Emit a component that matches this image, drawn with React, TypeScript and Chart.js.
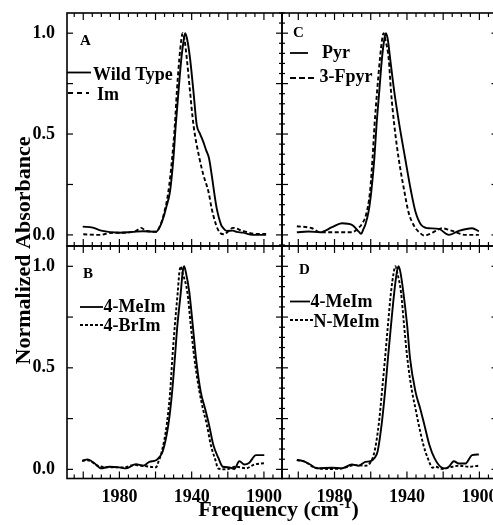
import React, { useEffect, useRef } from 'react';
import { Chart, registerables } from 'chart.js';

Chart.register(...registerables);

// ---------- Data ----------
// Panel A
const freqA_WT = [2000.3, 1994.7, 1990.1, 1980, 1972.6, 1967, 1959.7, 1957.1, 1955.5, 1954, 1952, 1950.1, 1948.8, 1947.3, 1945.7, 1944.5, 1943.6, 1942.5, 1940.9, 1939, 1937.2, 1935.3, 1933.5, 1932, 1930.4, 1928.9, 1927.6, 1926.1, 1923.7, 1922.6, 1920.6, 1917.2, 1915, 1911.7, 1906.2, 1898.8];
const absA_WT = [0.041, 0.036, 0.021, 0.011, 0.015, 0.018, 0.016, 0.05, 0.09, 0.14, 0.214, 0.38, 0.545, 0.71, 0.875, 0.96, 1.0, 0.97, 0.875, 0.71, 0.545, 0.5, 0.46, 0.42, 0.38, 0.297, 0.214, 0.13, 0.05, 0.035, 0.02, 0.021, 0.015, 0.011, 0.0, 0.0];
const freqA_Im = [2000, 1991, 1983.7, 1977.2, 1970.8, 1968, 1965.2, 1959.7, 1957.5, 1955.5, 1952.9, 1950.8, 1949.3, 1948.2, 1946.8, 1945.7, 1945, 1944, 1942.7, 1940.9, 1939, 1935.7, 1933.5, 1930.7, 1928.9, 1926.5, 1924.3, 1922, 1919.5, 1917.2, 1911.7, 1904.4, 1898.8];
const absA_Im = [0.003, 0.0, 0.011, 0.011, 0.02, 0.035, 0.02, 0.016, 0.045, 0.1, 0.214, 0.38, 0.545, 0.71, 0.875, 0.97, 1.0, 0.97, 0.875, 0.71, 0.545, 0.38, 0.297, 0.214, 0.13, 0.05, 0.01, 0.003, 0.02, 0.035, 0.02, 0.005, 0.005];

// Panel B
const freqB_MeIm = [2000.6, 1997.5, 1993.8, 1990.1, 1985.5, 1980, 1976.3, 1970.8, 1967, 1963.4, 1959.7, 1957.9, 1956, 1952.9, 1950.8, 1949.3, 1947.9, 1946, 1945, 1944.2, 1943.2, 1941.3, 1939.4, 1937.6, 1935, 1932.6, 1930.4, 1928, 1925.2, 1922.8, 1919.1, 1916.4, 1913.6, 1910.8, 1908.1, 1904.4, 1899.8];
const absB_MeIm = [0.042, 0.049, 0.03, 0.005, 0.013, 0.01, 0.005, 0.026, 0.018, 0.037, 0.045, 0.06, 0.089, 0.22, 0.383, 0.547, 0.71, 0.873, 0.97, 1.0, 0.97, 0.873, 0.71, 0.547, 0.383, 0.3, 0.22, 0.12, 0.056, 0.013, 0.01, 0.002, 0.04, 0.024, 0.033, 0.07, 0.07];
const freqB_BrIm = [2000.6, 1997.5, 1992, 1985.5, 1977.2, 1972.6, 1967, 1959.7, 1958.5, 1956.5, 1953.8, 1951.9, 1950.7, 1949.3, 1947.7, 1946.8, 1946, 1945.1, 1942.4, 1940.5, 1938.5, 1935.7, 1933.8, 1931.6, 1929.4, 1926.5, 1925.5, 1920.9, 1915.4, 1909.9, 1905.3, 1899.8];
const absB_BrIm = [0.042, 0.045, 0.018, 0.01, 0.01, 0.021, 0.018, 0.01, 0.035, 0.089, 0.22, 0.383, 0.547, 0.71, 0.873, 0.97, 1.0, 0.97, 0.873, 0.71, 0.547, 0.383, 0.3, 0.22, 0.12, 0.035, 0.005, 0.0, 0.013, 0.005, 0.024, 0.03];

// Panel C
const freqC_Pyr = [2000.8, 1994.4, 1987.9, 1981.4, 1975.9, 1970.4, 1966.5, 1965.3, 1964, 1963, 1961.2, 1959.7, 1958, 1956.8, 1955.3, 1953.8, 1952.5, 1951.6, 1950.6, 1949.3, 1947, 1944.2, 1941, 1937.7, 1935.3, 1932.2, 1929.5, 1928, 1922.4, 1916.9, 1911.4, 1904, 1900.3];
const absC_Pyr = [0.013, 0.017, 0.013, 0.038, 0.058, 0.05, 0.015, 0.005, 0.03, 0.05, 0.115, 0.214, 0.38, 0.545, 0.71, 0.875, 0.97, 1.0, 0.97, 0.875, 0.71, 0.545, 0.38, 0.214, 0.115, 0.05, 0.035, 0.033, 0.03, 0.0, 0.02, 0.033, 0.018];
const freqC_3Fpyr = [2000.8, 1992.5, 1987.9, 1977.8, 1970.4, 1966.7, 1964.8, 1962.6, 1960.4, 1959, 1957.9, 1956.5, 1954.9, 1953.7, 1952.9, 1952, 1950.1, 1948.8, 1947, 1944.6, 1941.4, 1939.2, 1936.4, 1932.2, 1930.4, 1928, 1924, 1920.6, 1915, 1907.7, 1900.3];
const absC_3Fpyr = [0.043, 0.033, 0.013, 0.013, 0.013, 0.035, 0.055, 0.1, 0.214, 0.38, 0.545, 0.71, 0.875, 0.97, 1.0, 0.97, 0.875, 0.71, 0.545, 0.38, 0.214, 0.115, 0.05, 0.005, -0.003, 0.003, 0.02, 0.033, 0.02, 0.0, 0.0];

// Panel D
const freqD_MeIm = [2000.8, 1997.7, 1993.4, 1989.7, 1981.4, 1975.9, 1970.4, 1966.7, 1963, 1960.2, 1958, 1956.2, 1954, 1952.1, 1950.5, 1948.8, 1947, 1945.6, 1944.6, 1943.6, 1942, 1939.9, 1938.3, 1935.3, 1932.7, 1930.4, 1927.6, 1924.8, 1921.1, 1918.7, 1916.9, 1914.1, 1911.4, 1907.7, 1904, 1900.3];
const absD_MeIm = [0.046, 0.042, 0.024, 0.005, 0.008, 0.005, 0.024, 0.018, 0.037, 0.04, 0.055, 0.088, 0.22, 0.383, 0.547, 0.71, 0.873, 0.97, 1.0, 0.97, 0.873, 0.71, 0.547, 0.383, 0.3, 0.22, 0.12, 0.055, 0.01, 0.005, 0.013, 0.04, 0.029, 0.029, 0.07, 0.073];
const freqD_NMeIm = [2000.8, 1996.2, 1990.7, 1981.4, 1975.9, 1968.5, 1963, 1960.2, 1957.9, 1955.6, 1953.8, 1952.1, 1950.5, 1948.8, 1947.3, 1946.4, 1945.4, 1943.3, 1941.6, 1939.8, 1937.2, 1935.3, 1933.5, 1930.9, 1928.5, 1925.8, 1924.3, 1920.6, 1915, 1911.4, 1905.8, 1900.3];
const absD_NMeIm = [0.046, 0.037, 0.008, 0.002, 0.005, 0.021, 0.018, 0.034, 0.088, 0.22, 0.383, 0.547, 0.71, 0.873, 0.97, 1.0, 0.97, 0.873, 0.71, 0.547, 0.383, 0.3, 0.22, 0.12, 0.055, 0.008, 0.013, 0.002, 0.013, 0.018, 0.013, 0.018];

// Tick labels and axis ranges
const xTickLabels = [1980, 1940, 1900];
const yTickLabels = [0, 0.5, 1.0];
const X_MIN = 1890;
const X_MAX = 2009;
const Y_MAX = 1.1;

// Text
const yTitle = 'Normalized Absorbance';
const xTitleMain = 'Frequency (cm';
const xTitleSup = '-1';
const xTitleEnd = ')';

const FONT = '"Liberation Serif", "Times New Roman", Times, serif';
const CW = 500;
const CH = 525;

type LegendItem = { label: string; dash: number[]; x0: number; x1: number; ly: number; tx: number; ty: number };
type PanelCfg = {
  key: string;
  letter: string;
  lx: number;
  ly: number;
  area: { left: number; right: number; top: number; bottom: number };
  yMin: number;
  showX: boolean;
  showY: boolean;
  leftMinor: boolean;
  rightMinor: boolean;
  curveDash: number[];
  series: { freq: number[]; abs: number[]; dashed: boolean }[];
  legend: LegendItem[];
  titles: boolean;
};

const panels: PanelCfg[] = [
  {
    key: 'A', letter: 'A', lx: 80, ly: 45,
    area: { left: 67, right: 282, top: 13, bottom: 246 },
    yMin: -0.055, showX: false, showY: true, leftMinor: false, rightMinor: true,
    curveDash: [4, 2.5],
    series: [
      { freq: freqA_WT, abs: absA_WT, dashed: false },
      { freq: freqA_Im, abs: absA_Im, dashed: true },
    ],
    legend: [
      { label: 'Wild Type', dash: [], x0: 67, x1: 91, ly: 72.5, tx: 93, ty: 80 },
      { label: 'Im', dash: [5, 4], x0: 68, x1: 89, ly: 93, tx: 97, ty: 100 },
    ],
    titles: true,
  },
  {
    key: 'C', letter: 'C', lx: 293, ly: 37,
    area: { left: 282, right: 497.5, top: 13, bottom: 246 },
    yMin: -0.055, showX: false, showY: false, leftMinor: true, rightMinor: false,
    curveDash: [4, 2.5],
    series: [
      { freq: freqC_Pyr, abs: absC_Pyr, dashed: false },
      { freq: freqC_3Fpyr, abs: absC_3Fpyr, dashed: true },
    ],
    legend: [
      { label: 'Pyr', dash: [], x0: 290, x1: 308, ly: 53, tx: 322, ty: 58 },
      { label: '3-Fpyr', dash: [6, 3], x0: 290, x1: 317, ly: 78, tx: 319.5, ty: 82 },
    ],
    titles: false,
  },
  {
    key: 'B', letter: 'B', lx: 83, ly: 278,
    area: { left: 67, right: 282, top: 246, bottom: 478.5 },
    yMin: -0.045, showX: true, showY: true, leftMinor: false, rightMinor: true,
    curveDash: [3, 2],
    series: [
      { freq: freqB_MeIm, abs: absB_MeIm, dashed: false },
      { freq: freqB_BrIm, abs: absB_BrIm, dashed: true },
    ],
    legend: [
      { label: '4-MeIm', dash: [], x0: 80, x1: 103, ly: 307, tx: 103.5, ty: 312 },
      { label: '4-BrIm', dash: [3, 2], x0: 80, x1: 103, ly: 325, tx: 103.5, ty: 331 },
    ],
    titles: false,
  },
  {
    key: 'D', letter: 'D', lx: 299, ly: 274,
    area: { left: 282, right: 497.5, top: 246, bottom: 478.5 },
    yMin: -0.045, showX: true, showY: false, leftMinor: true, rightMinor: false,
    curveDash: [3, 2],
    series: [
      { freq: freqD_MeIm, abs: absD_MeIm, dashed: false },
      { freq: freqD_NMeIm, abs: absD_NMeIm, dashed: true },
    ],
    legend: [
      { label: '4-MeIm', dash: [], x0: 290, x1: 310, ly: 301.5, tx: 310.5, ty: 307 },
      { label: 'N-MeIm', dash: [3, 2], x0: 290, x1: 313, ly: 320, tx: 313.5, ty: 327 },
    ],
    titles: false,
  },
];

function decorPlugin(cfg: PanelCfg) {
  return {
    id: 'decor' + cfg.key,
    afterDraw(chart: any) {
      const ctx: CanvasRenderingContext2D = chart.ctx;
      const { left, right, top, bottom } = chart.chartArea;
      const xs = chart.scales.x;
      const ys = chart.scales.y;
      const seg = (x0: number, y0: number, x1: number, y1: number) => {
        ctx.beginPath();
        ctx.moveTo(x0, y0);
        ctx.lineTo(x1, y1);
        ctx.stroke();
      };
      ctx.save();
      ctx.strokeStyle = '#000';
      ctx.fillStyle = '#000';
      ctx.setLineDash([]);
      // frame
      ctx.lineWidth = 1.6;
      ctx.strokeRect(left, top, right - left, bottom - top);
      // x ticks: every 5, major every 20
      ctx.lineWidth = 1.2;
      for (let v = Math.ceil(X_MIN / 5) * 5; v <= X_MAX; v += 5) {
        const px = xs.getPixelForValue(v);
        const len = v % 20 === 0 ? 7 : 4;
        seg(px, bottom, px, bottom - len);
        seg(px, top, px, top + len);
      }
      // y ticks: every 0.05, major every 0.25
      for (let i = -1; i <= 22; i++) {
        const v = i * 0.05;
        const py = ys.getPixelForValue(v);
        if (py < top - 0.5 || py > bottom + 0.5) continue;
        const major = i % 5 === 0;
        const len = major ? 6 : 3;
        if (major || cfg.leftMinor) seg(left, py, left + len, py);
        if (major || cfg.rightMinor) seg(right, py, right - len, py);
      }
      // panel letter
      ctx.font = `bold 15px ${FONT}`;
      ctx.textAlign = 'left';
      ctx.textBaseline = 'alphabetic';
      ctx.fillText(cfg.letter, cfg.lx, cfg.ly);
      // legend
      ctx.font = `bold 18px ${FONT}`;
      for (const it of cfg.legend) {
        ctx.lineWidth = 1.8;
        ctx.setLineDash(it.dash);
        seg(it.x0, it.ly, it.x1, it.ly);
        ctx.setLineDash([]);
        ctx.fillText(it.label, it.tx, it.ty);
      }
      if (cfg.titles) {
        // shared y title
        ctx.save();
        ctx.font = `bold 22px ${FONT}`;
        ctx.translate(30, 250.5);
        ctx.rotate(-Math.PI / 2);
        ctx.textAlign = 'center';
        ctx.textBaseline = 'alphabetic';
        ctx.fillText(yTitle, 0, 0);
        ctx.restore();
        // shared x title with superscript
        ctx.save();
        ctx.textAlign = 'left';
        ctx.textBaseline = 'alphabetic';
        ctx.font = `bold 22px ${FONT}`;
        const w1 = ctx.measureText(xTitleMain).width;
        const w3 = ctx.measureText(xTitleEnd).width;
        ctx.font = `bold 14px ${FONT}`;
        const w2 = ctx.measureText(xTitleSup).width;
        const total = w1 + w2 + w3 + 1;
        const x0 = 278.5 - total / 2;
        const base = 516;
        ctx.font = `bold 22px ${FONT}`;
        ctx.fillText(xTitleMain, x0, base);
        ctx.font = `bold 14px ${FONT}`;
        ctx.fillText(xTitleSup, x0 + w1 + 0.5, base - 8);
        ctx.font = `bold 22px ${FONT}`;
        ctx.fillText(xTitleEnd, x0 + w1 + w2 + 1, base);
        ctx.restore();
      }
      ctx.restore();
    },
  };
}

function Panel({ cfg }: { cfg: PanelCfg }) {
  const ref = useRef<HTMLCanvasElement>(null);
  useEffect(() => {
    const canvas = ref.current;
    if (!canvas) return;
    const a = cfg.area;
    const tickFont = { family: FONT, size: 18, weight: 'bold' as const };
    const chart = new Chart(canvas, {
      type: 'line',
      data: {
        datasets: cfg.series.map((s) => ({
          data: s.freq.map((f, i) => ({ x: f, y: s.abs[i] })),
          borderColor: '#000',
          borderWidth: 1.9,
          borderDash: s.dashed ? cfg.curveDash : [],
          pointRadius: 0,
          fill: false,
          cubicInterpolationMode: 'monotone' as const,
        })),
      },
      options: {
        animation: false,
        responsive: false,
        maintainAspectRatio: false,
        events: [],
        layout: { autoPadding: false, padding: { left: 0, top: a.top, right: CW - a.right, bottom: 0 } },
        plugins: { legend: { display: false }, tooltip: { enabled: false }, title: { display: false } },
        scales: {
          x: {
            type: 'linear',
            reverse: true,
            min: X_MIN,
            max: X_MAX,
            grid: { display: false },
            border: { display: false },
            ticks: {
              display: cfg.showX,
              color: '#000',
              font: tickFont,
              padding: 0,
              maxRotation: 0,
              autoSkip: false,
              callback: (v: any) => String(v),
            },
            afterBuildTicks: (s: any) => {
              s.ticks = xTickLabels.map((v) => ({ value: v }));
            },
            afterFit: (s: any) => {
              s.height = CH - a.bottom;
              s.paddingLeft = 0;
              s.paddingRight = 0;
              s.paddingTop = 0;
              s.paddingBottom = 0;
            },
          },
          y: {
            type: 'linear',
            min: cfg.yMin,
            max: Y_MAX,
            grid: { display: false },
            border: { display: false },
            ticks: {
              display: cfg.showY,
              color: '#000',
              font: tickFont,
              padding: 4,
              callback: (v: any) => Number(v).toFixed(1),
            },
            afterBuildTicks: (s: any) => {
              s.ticks = yTickLabels.map((v) => ({ value: v }));
            },
            afterFit: (s: any) => {
              s.width = a.left;
              s.paddingLeft = 0;
              s.paddingRight = 0;
              s.paddingTop = 0;
              s.paddingBottom = 0;
            },
          },
        },
      },
      plugins: [decorPlugin(cfg)],
    } as any);
    return () => chart.destroy();
  }, [cfg]);
  return (
    <canvas
      ref={ref}
      width={CW}
      height={CH}
      style={{ position: 'absolute', left: 0, top: 0, width: CW, height: CH }}
    />
  );
}

export default function App() {
  return (
    <div
      style={{
        position: 'fixed',
        left: 0,
        top: 0,
        width: 493,
        height: 525,
        overflow: 'hidden',
        background: '#fff',
      }}
    >
      {panels.map((p) => (
        <Panel key={p.key} cfg={p} />
      ))}
    </div>
  );
}
